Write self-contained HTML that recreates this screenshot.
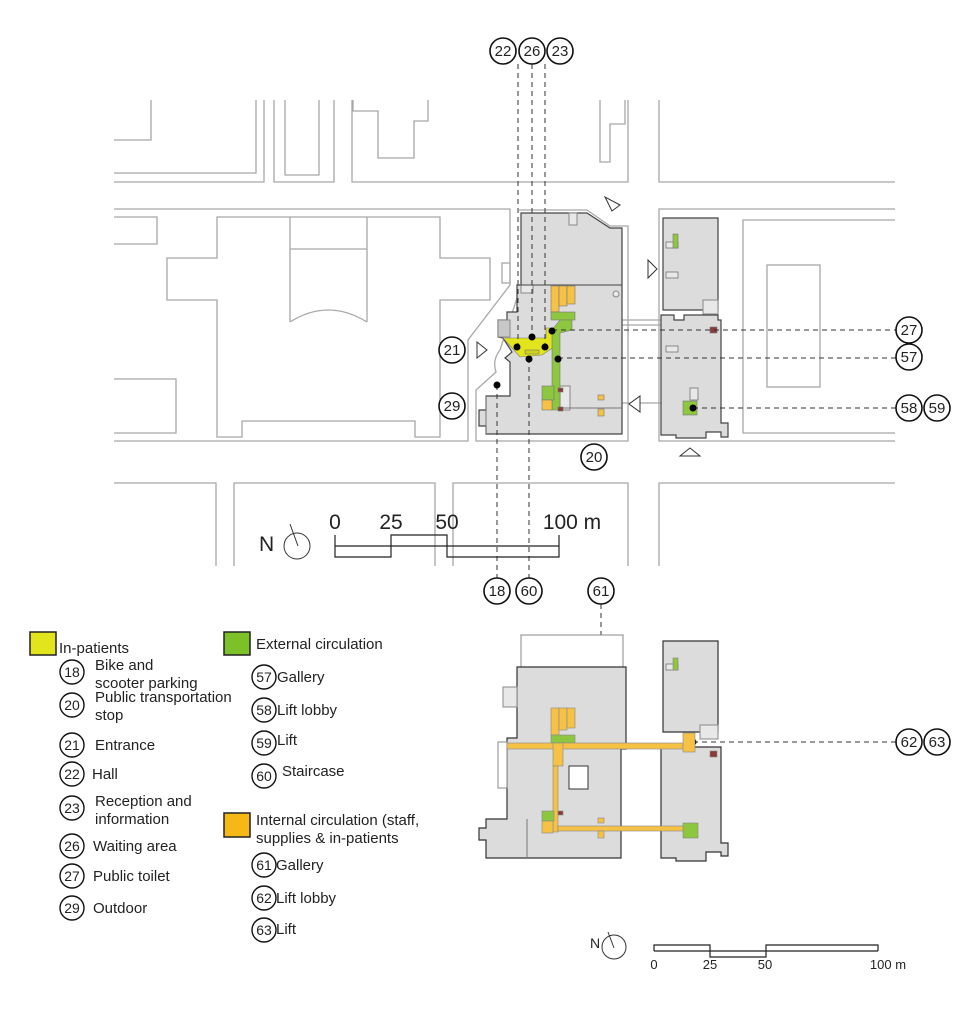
<!DOCTYPE html>
<html><head><meta charset="utf-8"><style>
html,body{margin:0;padding:0;background:#fff;}
svg{display:block;}
text{font-family:"Liberation Sans",sans-serif;fill:#222;}
</style></head><body>
<svg width="978" height="1023" viewBox="0 0 978 1023" xmlns="http://www.w3.org/2000/svg">
<g fill="none" stroke="#a8a8a8" stroke-width="1.3">
<polyline points="114,173 256,173 256,100"/>
<polyline points="114,182 264,182 264,100"/>
<polyline points="114,140 151,140 151,100"/>
<polyline points="274,100 274,182 334,182 334,100"/>
<polyline points="285,100 285,175 319,175 319,100"/>
<polyline points="352,100 352,182 628,182 628,100"/>
<polyline points="353,100 353,111 378,111 378,158 414,158 414,121 428,121 428,100"/>
<polyline points="600,100 600,162 610,162 610,124 625,124 625,100"/>
<polyline points="895,182 659,182 659,100"/>
<polyline points="114,209 510,209 510,285 468,340 468,441 114,441"/>
<polyline points="114,217 157,217 157,244 114,244"/>
<polyline points="114,379 176,379 176,433 114,433"/>
<polygon points="217,217 440,217 440,258 490,258 490,300 440,300 440,437 415,437 415,421 242,421 242,437 217,437 217,300 167,300 167,258 217,258"/>
<polyline points="290,217 290,322"/>
<polyline points="367,217 367,322"/>
<line x1="290" y1="249" x2="367" y2="249"/>
<path d="M290,322 Q328,298 367,322"/>
<rect x="502" y="263" width="8" height="20"/>
<path d="M519,210 L587,210 L610,226 L628,226 L628,441 L476,441 L476,390 L496,372 Q492,360 500,350 L518,295"/>
<polyline points="895,209 659,209 659,441 895,441"/>
<polyline points="895,220 743,220 743,433 895,433"/>
<rect x="767" y="265" width="53" height="122"/>
<polyline points="114,483 216,483 216,566"/>
<polyline points="234,566 234,483 435,483 435,566"/>
<polyline points="453,566 453,483 628,483 628,566"/>
<polyline points="659,566 659,483 895,483"/>
<line x1="622" y1="320" x2="661" y2="320"/>
<line x1="622" y1="325" x2="661" y2="325"/>
<line x1="622" y1="403" x2="661" y2="403"/>
</g>
<g stroke="#444" stroke-width="1.2" fill="#dcdcdc">
<polygon points="521,213 587,213 610,228 622,228 622,434 486,434 486,426 479,426 479,410 486,410 486,396 510,396 510,362 505,358 512,352 503,338 498,337 498,320 507,320 507,312 517,312 517,285 521,285"/>
<polygon points="663,218 718,218 718,310 663,310"/>
<polygon points="661,315 674,315 674,320 684,320 684,315 718,315 718,320 721,320 721,423 728,423 728,437 721,437 721,432 706,432 706,438 676,438 676,435 661,435"/>
</g>
<g stroke="#888" stroke-width="1" fill="#e8e8e8">
<rect x="569" y="213" width="8" height="12"/>
<rect x="521" y="285" width="12" height="8"/>
<rect x="498" y="320" width="12" height="17" fill="#c8c8c8"/>
<rect x="666" y="242" width="12" height="6"/>
<rect x="666" y="272" width="12" height="6"/>
<rect x="703" y="300" width="15" height="14"/>
<rect x="666" y="346" width="12" height="6"/>
<rect x="690" y="388" width="8" height="12"/>
<rect x="560" y="386" width="10" height="24"/>
<circle cx="616" cy="294" r="3"/>
</g>
<line x1="521" y1="285" x2="622" y2="285" stroke="#444" stroke-width="1"/>
<line x1="486" y1="396" x2="486" y2="434" stroke="#777"/>
<line x1="560" y1="408" x2="622" y2="408" stroke="#777"/>
<g stroke="#777" stroke-width="0.6">
<polygon points="503,338 546,338 546,328 554,328 554,347 542,355 520,357" fill="#e2e41c"/>
<rect x="525" y="350" width="14" height="4" fill="#cfd21a"/>
<rect x="551" y="286" width="8" height="26" fill="#f5c246"/>
<rect x="559" y="286" width="8" height="20" fill="#f5c246"/>
<rect x="567" y="286" width="8" height="18" fill="#f5c246"/>
<rect x="551" y="312" width="24" height="8" fill="#8dc63f"/>
<polygon points="560,320 572,320 572,330 560,333 560,410 552,410 552,330" fill="#8dc63f"/>
<rect x="542" y="386" width="12" height="14" fill="#8dc63f"/>
<rect x="542" y="400" width="10" height="10" fill="#f5c246"/>
<rect x="558" y="388" width="5" height="4" fill="#8b3a3a"/>
<rect x="558" y="407" width="5" height="4" fill="#8b3a3a"/>
<rect x="598" y="395" width="6" height="5" fill="#f5c246"/>
<rect x="598" y="409" width="6" height="7" fill="#f5c246"/>
<rect x="673" y="234" width="5" height="14" fill="#8dc63f"/>
<rect x="683" y="401" width="14" height="14" fill="#8dc63f"/>
<rect x="710" y="327" width="7" height="6" fill="#8b3a3a"/>
</g>
<g fill="#fff" stroke="#333" stroke-width="1">
<polygon points="477,342 477,358 487,350"/>
<polygon points="605,197 612,211 620,205"/>
<polygon points="648,260 648,278 657,269"/>
<polygon points="640,396 640,412 629,404"/>
<polygon points="680,456 700,456 690,448"/>
</g>
<g stroke="#333" stroke-width="1" stroke-dasharray="5,4" fill="none">
<line x1="518" y1="64" x2="518" y2="346"/>
<line x1="532" y1="64" x2="532" y2="337"/>
<line x1="545" y1="64" x2="545" y2="346"/>
<line x1="552" y1="330" x2="896" y2="330"/>
<line x1="558" y1="358" x2="896" y2="358"/>
<line x1="693" y1="408" x2="896" y2="408"/>
<line x1="497" y1="385" x2="497" y2="578"/>
<line x1="529" y1="358" x2="529" y2="578"/>
<line x1="601" y1="604" x2="601" y2="742"/>
<line x1="693" y1="742" x2="896" y2="742"/>
</g>
<g fill="#000">
<circle cx="532" cy="337" r="3.5"/><circle cx="517" cy="347" r="3.5"/><circle cx="545" cy="347" r="3.5"/>
<circle cx="552" cy="331" r="3.5"/><circle cx="529" cy="359" r="3.5"/><circle cx="558" cy="359" r="3.5"/>
<circle cx="497" cy="385" r="3.5"/><circle cx="693" cy="408" r="3.5"/>
<circle cx="601" cy="742" r="3.5"/><circle cx="693" cy="742" r="3.5"/>
</g>
<rect x="521" y="635" width="102" height="32" fill="#fff" stroke="#888"/>
<g stroke="#333" stroke-width="1.2" fill="#dcdcdc">
<polygon points="517,667 626,667 626,749 621,749 621,858 486,858 486,840 479,840 479,828 486,828 486,819 507,819 507,738 517,738"/>
<polygon points="663,641 718,641 718,732 663,732"/>
<polygon points="661,747 721,747 721,843 728,843 728,856 721,856 721,852 706,852 706,861 676,861 676,858 661,858"/>
</g>
<rect x="569" y="766" width="19" height="23" fill="#fff" stroke="#333"/>
<rect x="498" y="742" width="9" height="46" fill="#fff" stroke="#888"/>
<line x1="527" y1="819" x2="527" y2="858" stroke="#777"/>
<g stroke="#888" fill="#e8e8e8">
<rect x="503" y="687" width="14" height="20"/>
<rect x="700" y="725" width="18" height="14"/>
<rect x="666" y="664" width="12" height="6"/>
</g>
<g stroke="#888" stroke-width="0.6">
<rect x="551" y="708" width="8" height="27" fill="#f5c246"/>
<rect x="559" y="708" width="8" height="22" fill="#f5c246"/>
<rect x="567" y="708" width="8" height="20" fill="#f5c246"/>
<rect x="551" y="735" width="24" height="8" fill="#8dc63f"/>
<rect x="507" y="743" width="176" height="6" fill="#f5c246"/>
<rect x="553" y="743" width="10" height="23" fill="#f5c246"/>
<rect x="553" y="766" width="5" height="66" fill="#f5c246"/>
<rect x="558" y="826" width="126" height="5" fill="#f5c246"/>
<rect x="683" y="733" width="12" height="19" fill="#f5c246"/>
<rect x="683" y="823" width="15" height="15" fill="#8dc63f"/>
<rect x="542" y="811" width="12" height="10" fill="#8dc63f"/>
<rect x="542" y="821" width="11" height="12" fill="#f5c246"/>
<rect x="598" y="818" width="6" height="5" fill="#f5c246"/>
<rect x="598" y="831" width="6" height="7" fill="#f5c246"/>
<rect x="673" y="658" width="5" height="12" fill="#8dc63f"/>
<rect x="710" y="751" width="7" height="6" fill="#8b3a3a"/>
<rect x="558" y="811" width="5" height="4" fill="#8b3a3a"/>
</g>
<g fill="#fff" stroke="#111" stroke-width="1.6">
<circle cx="503" cy="51" r="13"/><circle cx="532" cy="51" r="13"/><circle cx="560" cy="51" r="13"/>
<circle cx="909" cy="330" r="13"/><circle cx="909" cy="357" r="13"/>
<circle cx="909" cy="408" r="13"/><circle cx="937" cy="408" r="13"/>
<circle cx="452" cy="350" r="13"/><circle cx="452" cy="406" r="13"/><circle cx="594" cy="457" r="13"/>
<circle cx="497" cy="591" r="13"/><circle cx="529" cy="591" r="13"/><circle cx="601" cy="591" r="13"/>
<circle cx="909" cy="742" r="13"/><circle cx="937" cy="742" r="13"/>
</g>
<g font-size="15" text-anchor="middle">
<text x="503" y="56">22</text><text x="532" y="56">26</text><text x="560" y="56">23</text>
<text x="909" y="335">27</text><text x="909" y="362">57</text>
<text x="909" y="413">58</text><text x="937" y="413">59</text>
<text x="452" y="355">21</text><text x="452" y="411">29</text><text x="594" y="462">20</text>
<text x="497" y="596">18</text><text x="529" y="596">60</text><text x="601" y="596">61</text>
<text x="909" y="747">62</text><text x="937" y="747">63</text>
</g>
<text x="259" y="551" font-size="21">N</text>
<circle cx="297" cy="546" r="13" fill="none" stroke="#333"/>
<line x1="290" y1="524" x2="298" y2="546" stroke="#333"/>
<g font-size="21" text-anchor="middle"><text x="335" y="529">0</text><text x="391" y="529">25</text><text x="447" y="529">50</text><text x="572" y="529">100 m</text></g>
<g fill="none" stroke="#222" stroke-width="1.2">
<polyline points="335,535 335,557 391,557 391,535 447,535 447,557 559,557 559,535"/>
<line x1="335" y1="546" x2="559" y2="546"/>
</g>
<text x="590" y="948" font-size="14">N</text>
<circle cx="614" cy="947" r="12" fill="none" stroke="#333"/>
<line x1="608" y1="932" x2="614" y2="948" stroke="#333"/>
<g fill="none" stroke="#222" stroke-width="1.2">
<polyline points="654,951 654,945 710,945 710,957 766,957 766,945 878,945 878,951"/>
<line x1="654" y1="951" x2="878" y2="951"/>
</g>
<g font-size="13" text-anchor="middle" fill="#444"><text x="654" y="969">0</text><text x="710" y="969">25</text><text x="765" y="969">50</text><text x="888" y="969">100 m</text></g>
<rect x="30" y="632" width="26" height="23" fill="#e2e41c" stroke="#222" stroke-width="1.5"/>
<rect x="224" y="632" width="26" height="23" fill="#7cc127" stroke="#222" stroke-width="1.5"/>
<rect x="224" y="813" width="26" height="24" fill="#f5b816" stroke="#222" stroke-width="1.5"/>
<g fill="#fff" stroke="#111" stroke-width="1.4">
<circle cx="72" cy="672" r="12"/><circle cx="72" cy="705" r="12"/><circle cx="72" cy="745" r="12"/>
<circle cx="72" cy="774" r="12"/><circle cx="72" cy="808" r="12"/><circle cx="72" cy="846" r="12"/>
<circle cx="72" cy="876" r="12"/><circle cx="72" cy="908" r="12"/>
<circle cx="264" cy="677" r="12"/><circle cx="264" cy="710" r="12"/><circle cx="264" cy="743" r="12"/>
<circle cx="264" cy="776" r="12"/><circle cx="264" cy="865" r="12"/><circle cx="264" cy="898" r="12"/>
<circle cx="264" cy="930" r="12"/>
</g>
<g font-size="14" text-anchor="middle">
<text x="72" y="677">18</text><text x="72" y="710">20</text><text x="72" y="750">21</text><text x="72" y="779">22</text>
<text x="72" y="813">23</text><text x="72" y="851">26</text><text x="72" y="881">27</text><text x="72" y="913">29</text>
<text x="264" y="682">57</text><text x="264" y="715">58</text><text x="264" y="748">59</text><text x="264" y="781">60</text>
<text x="264" y="870">61</text><text x="264" y="903">62</text><text x="264" y="935">63</text>
</g>
<g font-size="15">
<text x="59" y="653">In-patients</text>
<text x="95" y="670">Bike and</text><text x="95" y="688">scooter parking</text>
<text x="95" y="702">Public transportation</text><text x="95" y="720">stop</text>
<text x="95" y="750">Entrance</text>
<text x="92" y="779">Hall</text>
<text x="95" y="806">Reception and</text><text x="95" y="824">information</text>
<text x="93" y="851">Waiting area</text>
<text x="93" y="881">Public toilet</text>
<text x="93" y="913">Outdoor</text>
<text x="256" y="649">External circulation</text>
<text x="277" y="682">Gallery</text>
<text x="277" y="715">Lift lobby</text>
<text x="277" y="745">Lift</text>
<text x="282" y="776">Staircase</text>
<text x="256" y="825">Internal circulation (staff,</text>
<text x="256" y="843">supplies &amp; in-patients</text>
<text x="276" y="870">Gallery</text>
<text x="276" y="903">Lift lobby</text>
<text x="276" y="934">Lift</text>
</g>
</svg>
</body></html>
